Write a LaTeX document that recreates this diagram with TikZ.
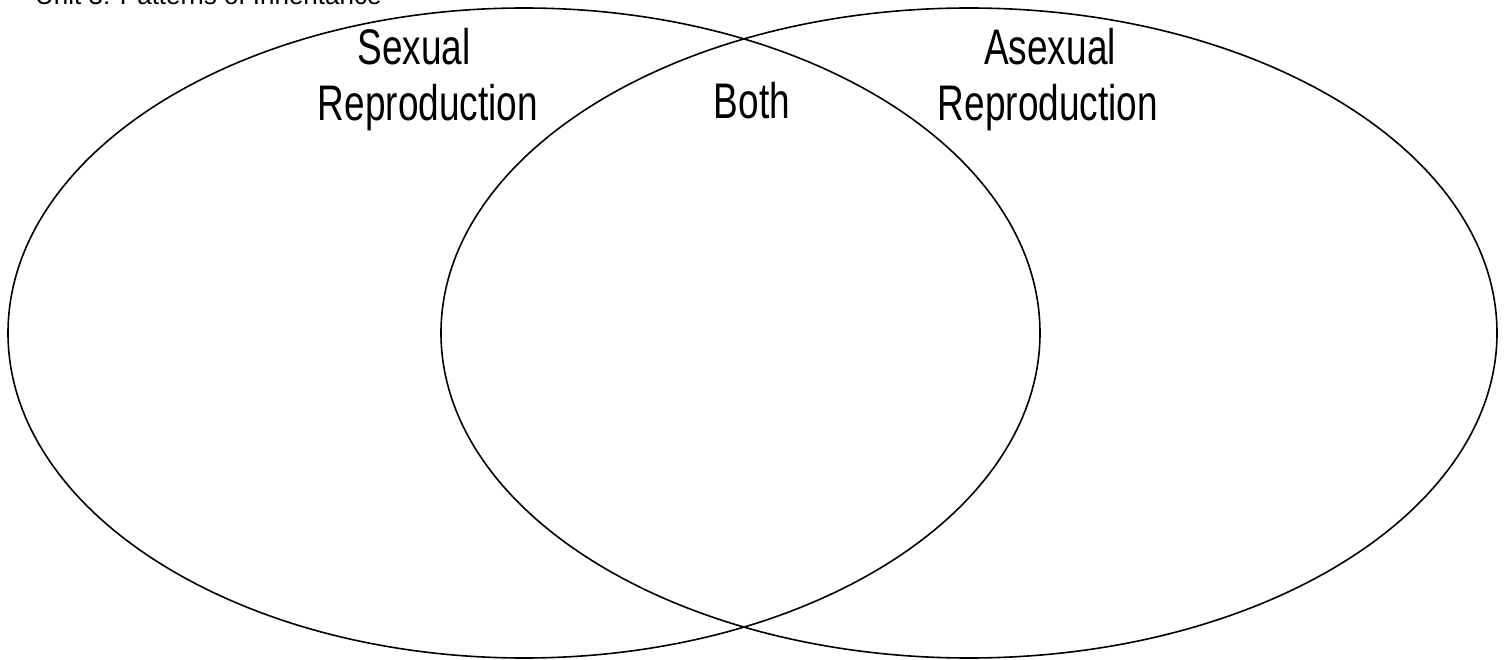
\documentclass[tikz,border=0pt]{standalone}
\usepackage{fontspec}
\setmainfont{Liberation Sans}
\usepackage{tikz}

\begin{document}
\begin{tikzpicture}[x=1pt,y=-1pt,line cap=round,
  lbl/.style={font=\fontsize{50}{50}\selectfont,xscale=0.74,inner sep=0pt,anchor=base}]
\useasboundingbox (0,0) rectangle (1508,660);
\node[anchor=base west,inner sep=0pt,font=\fontsize{26}{26}\selectfont] (title) at (35,5) {Unit 3: Patterns of Inheritance};
\draw[line width=1.6pt] (524,333) ellipse[x radius=516,y radius=325];
\draw[line width=1.6pt] (969,333) ellipse[x radius=528,y radius=325];
\node[lbl] (sex) at (414,65) {Sexual};
\node[lbl] (sexrep) at (428,121) {Reproduction};
\node[lbl] (both) at (752,119) {Both};
\node[lbl] (asex) at (1050,65) {Asexual};
\node[lbl] (asexrep) at (1048,121) {Reproduction};
\end{tikzpicture}
\end{document}
